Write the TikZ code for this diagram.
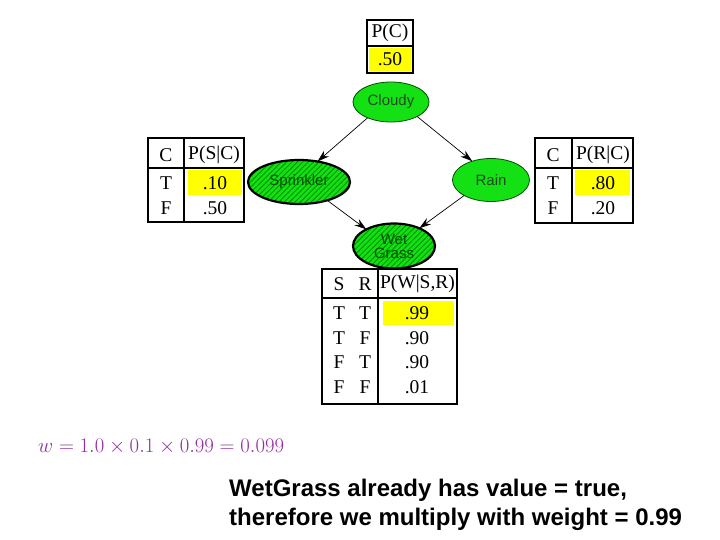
\documentclass[tikz,border=0pt]{standalone}
\usepackage{fontspec}
\setmainfont{Liberation Serif}
\newfontfamily\arialfont{Liberation Sans}
\usetikzlibrary{shapes.geometric,arrows.meta,patterns.meta}
\definecolor{nodegreen}{RGB}{20,225,20}
\definecolor{hatchgreen}{RGB}{0,150,0}
\definecolor{labelgreen}{RGB}{25,75,25}
\definecolor{hatchlabel}{RGB}{0,75,0}
\definecolor{cellyellow}{RGB}{255,255,0}
\definecolor{formulapurple}{RGB}{145,45,165}
\begin{document}
\begin{tikzpicture}[x=1pt,y=-1pt,
  plainnode/.style={ellipse, draw=black!70!green, line width=0.8pt, fill=nodegreen, inner sep=0pt, outer sep=0pt},
  hatchnode/.style={ellipse, draw=black, line width=2.2pt, preaction={fill=nodegreen}, pattern={Lines[angle=45,distance=3.8pt,line width=1pt]}, pattern color=hatchgreen, inner sep=0pt, outer sep=0pt},
  nodetext/.style={font=\arialfont\fontsize{15}{17}\selectfont, text=labelgreen, align=center, inner sep=0pt},
  hatchtext/.style={nodetext, text=hatchlabel},
  cell/.style={font=\fontsize{19.5}{23}\selectfont, inner sep=0pt, anchor=center},
  tbl/.style={line width=1.2pt},
  hl/.style={fill=cellyellow},
  link/.style={line width=0.7pt, -{Stealth[length=12pt,width=7.5pt]}}
]
\useasboundingbox (0,0) rectangle (720,540);
\fill[white] (0,0) rectangle (720,540);

% ---------- P(C) table ----------
\fill[hl] (369,48) rectangle (411,71);
\draw[tbl] (367,20) rectangle (413,73);
\draw[tbl] (367,46) -- (413,46);
\node[cell] (pc) at (390,33) {P(C)};
\node[cell] (pcv) at (390,59) {.50};

% ---------- P(S|C) table ----------
\fill[hl] (188,170) rectangle (242,195);
\draw[tbl] (148,138) rectangle (244,222);
\draw[tbl] (184,138) -- (184,222);
\draw[tbl] (148,168) -- (244,168);
\node[cell] (sc) at (166,155) {C};
\node[cell] (sh) at (214,155) {P(S|C)};
\node[cell] (sct) at (166,183) {T};
\node[cell] (sv1) at (215,183) {.10};
\node[cell] (scf) at (166,208) {F};
\node[cell] (sv2) at (215,208) {.50};

% ---------- P(R|C) table ----------
\fill[hl] (575,170) rectangle (630,195);
\draw[tbl] (535,138) rectangle (633,223);
\draw[tbl] (572,138) -- (572,223);
\draw[tbl] (535,168) -- (633,168);
\node[cell] (rc) at (553,155) {C};
\node[cell] (rh) at (603,155) {P(R|C)};
\node[cell] (rct) at (553,183) {T};
\node[cell] (rv1) at (603,183) {.80};
\node[cell] (rcf) at (553,208) {F};
\node[cell] (rv2) at (603,208) {.20};

% ---------- P(W|S,R) table ----------
\fill[hl] (383,301) rectangle (454,325);
\draw[tbl] (322,269) rectangle (457,404);
\draw[tbl] (378,269) -- (378,404);
\draw[tbl] (322,298) -- (457,298);
\node[cell] (ws) at (339,284) {S};
\node[cell] (wr) at (365,284) {R};
\node[cell] (wh) at (417.5,284) {P(W|S,R)};
\node[cell] (w1s) at (339,313) {T};
\node[cell] (w1r) at (365,313) {T};
\node[cell] (w1v) at (417,313) {.99};
\node[cell] (w2s) at (339,338) {T};
\node[cell] (w2r) at (365,338) {F};
\node[cell] (w2v) at (417,338) {.90};
\node[cell] (w3s) at (339,362) {F};
\node[cell] (w3r) at (365,362) {T};
\node[cell] (w3v) at (417,362) {.90};
\node[cell] (w4s) at (339,387) {F};
\node[cell] (w4r) at (365,387) {F};
\node[cell] (w4v) at (417,387) {.01};

% ---------- network ----------
\node[plainnode, minimum width=76pt, minimum height=40pt] (cloudy) at (391,102) {};
\node[nodetext] (cloudyt) at (cloudy.center) {Cloudy};
\node[hatchnode, minimum width=102pt, minimum height=44pt] (sprinkler) at (299,182) {};
\node[hatchtext] (sprinklert) at (sprinkler.center) {Sprinkler};
\node[plainnode, minimum width=77pt, minimum height=43pt] (rain) at (491,180) {};
\node[nodetext] (raint) at (rain.center) {Rain};
\node[hatchnode, minimum width=82pt, minimum height=45pt] (wet) at (394,246) {};
\node[hatchtext] (wett) at (wet.center) {Wet\\[-3pt]Grass};

\draw[link] (cloudy.214) -- (sprinkler.48);
\draw[link] (cloudy.331) -- (rain.135);
\draw[link] (sprinkler.327) -- (wet.149);
\draw[link] (rain.210) -- (wet.35);

% ---------- texts ----------
\node[anchor=base west, inner sep=0pt, text=formulapurple, font=\fontsize{19.2}{23}\selectfont] (formula) at (38,452) {$w = 1.0 \times 0.1 \times 0.99 = 0.099$};
\node[anchor=base west, inner sep=0pt, font=\arialfont\bfseries\fontsize{24}{29}\selectfont] (line1) at (229,496) {WetGrass already has value = true,};
\node[anchor=base west, inner sep=0pt, font=\arialfont\bfseries\fontsize{24}{29}\selectfont] (line2) at (229,525) {therefore we multiply with weight = 0.99};
\end{tikzpicture}
\end{document}
